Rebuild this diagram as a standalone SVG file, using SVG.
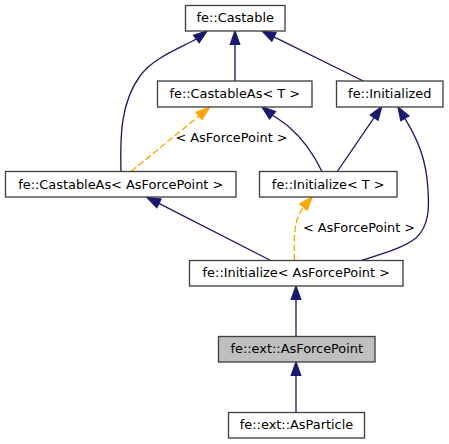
<svg xmlns="http://www.w3.org/2000/svg" width="449" height="444" viewBox="0 0 449 444">
<style>
.box{fill:#ffffff;stroke:#404040;stroke-width:1.33}
.cur{fill:#bfbfbf;stroke:#404040;stroke-width:1.33}
text{font-family:"DejaVu Sans","Noto Sans",sans-serif;font-size:12.9px;fill:#000000;text-anchor:middle}
.e{fill:none;stroke:#191970;stroke-width:1.33}
.ea{fill:#191970;stroke:#191970;stroke-width:1.33}
.d{fill:none;stroke:#ffa500;stroke-width:1.33;stroke-dasharray:6.7,2.7}
.da{fill:#ffa500;stroke:#ffa500;stroke-width:1.33}
</style>
<rect width="449" height="444" fill="#ffffff"/>
<g id="connectors">
<path class="e" d="M235,81 L235,44.3"/>
<polygon class="ea" points="235,31 230.33,44.3 239.67,44.3"/>
<path class="e" d="M363.3,81 L273.9,36.9"/>
<polygon class="ea" points="262,31 275.97,32.72 271.83,41.08"/>
<path class="e" d="M121,171.5 C120,135 121,102 140,76 C153,58 178,49 196.4,39"/>
<polygon class="ea" points="207,31 199.2,42.7 193.6,35.3"/>
<path class="d" d="M131,171.5 L199,116"/>
<polygon class="da" points="209.3,107.6 201.95,119.62 196.05,112.38"/>
<text x="231.5" y="142">&lt; AsForcePoint &gt;</text>
<path class="e" d="M322,171.5 C314,155 303,139 289,127 C284,122.5 278,119 272.5,115.2"/>
<polygon class="ea" points="262,107 275.4,111.5 269.6,118.9"/>
<path class="e" d="M337.3,171.5 L374.1,117.6"/>
<polygon class="ea" points="381.7,106.7 377.94,120.25 370.26,114.95"/>
<path class="e" d="M361.5,260.5 C385,253 405,247 416,238 C430,225 429,205 428,190 C426.5,160 418,140 404.9,118.4"/>
<polygon class="ea" points="398,107 408.9,116 400.9,120.8"/>
<path class="e" d="M270.7,260.5 L158.9,203.3"/>
<polygon class="ea" points="147,197.3 161,199.1 156.8,207.5"/>
<path class="d" d="M294.5,260.5 C294,245 294,232 296,224 C297,218 300,212 303.5,207"/>
<polygon class="da" points="312.1,196.9 307.05,210.04 299.95,203.96"/>
<text x="359" y="232">&lt; AsForcePoint &gt;</text>
<path class="e" d="M296,336.5 L296,299.3"/>
<polygon class="ea" points="296,286 291.33,299.3 300.67,299.3"/>
<path class="e" d="M296,412.5 L296,375.3"/>
<polygon class="ea" points="296,362 291.33,375.3 300.67,375.3"/>
</g>
<g id="castable">
<rect class="box" x="185.5" y="5.5" width="99.5" height="25.5"/>
<text x="235.25" y="22">fe::Castable</text>
</g>
<g id="castableAsT">
<rect class="box" x="157.5" y="81" width="154.5" height="26"/>
<text x="234.75" y="98">fe::CastableAs&lt; T &gt;</text>
</g>
<g id="initialized">
<rect class="box" x="336.5" y="81" width="106.5" height="26"/>
<text x="389.75" y="98">fe::Initialized</text>
</g>
<g id="castableAsAFP">
<rect class="box" x="5.5" y="171.5" width="230.5" height="25.5"/>
<text x="120.75" y="188.5">fe::CastableAs&lt; AsForcePoint &gt;</text>
</g>
<g id="initializeT">
<rect class="box" x="259.5" y="171.5" width="137.5" height="25.5"/>
<text x="328.25" y="188.5">fe::Initialize&lt; T &gt;</text>
</g>
<g id="initializeAFP">
<rect class="box" x="189.5" y="260.5" width="213.5" height="25.5"/>
<text x="296.25" y="277">fe::Initialize&lt; AsForcePoint &gt;</text>
</g>
<g id="asForcePoint">
<rect class="cur" x="218.5" y="336.5" width="156.5" height="25.5"/>
<text x="296.75" y="353">fe::ext::AsForcePoint</text>
</g>
<g id="asParticle">
<rect class="box" x="228.5" y="412.5" width="136" height="25.5"/>
<text x="296.5" y="429">fe::ext::AsParticle</text>
</g>
</svg>
